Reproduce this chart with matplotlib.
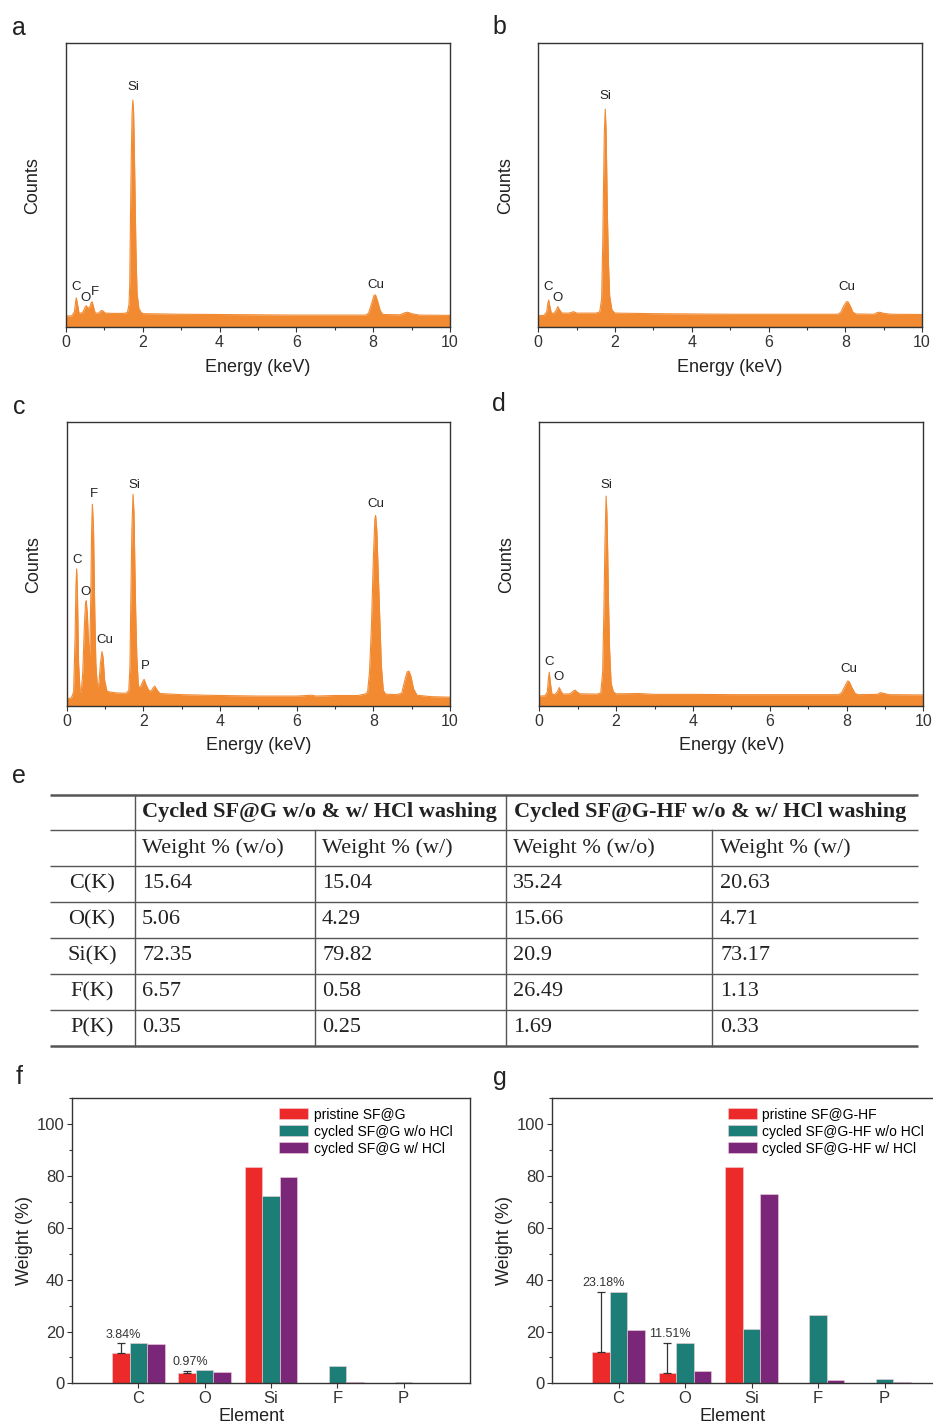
import matplotlib
matplotlib.use('Agg')
import matplotlib.pyplot as plt
import numpy as np

plt.rcParams['font.family'] = ['Liberation Sans', 'DejaVu Sans']

W, H = 933, 1425
ORANGE = '#F28A32'
INK = '#333333'

# ---------------- EDS spectra: energy (keV) / counts (% of axis height) ----------------
energy_a = [0.00, 0.15, 0.22, 0.25, 0.27, 0.30, 0.34, 0.38, 0.45, 0.50, 0.53, 0.57, 0.62,
            0.66, 0.68, 0.71, 0.76, 0.85, 0.92, 0.96, 1.02, 1.20, 1.50, 1.60, 1.64, 1.66,
            1.68, 1.70, 1.72, 1.74, 1.76, 1.78, 1.80, 1.82, 1.85, 1.90, 1.96, 2.00, 3.00,
            4.00, 5.00, 6.00, 7.00, 7.80, 7.88, 7.95, 8.02, 8.06, 8.12, 8.18, 8.25, 8.70,
            8.82, 8.90, 9.00, 9.20, 10.00]
counts_a = [4.0, 4.0, 5.5, 9.0, 10.4, 8.0, 5.0, 4.9, 5.5, 7.2, 7.6, 6.7, 7.2,
            8.8, 9.0, 7.5, 5.0, 5.0, 5.9, 5.8, 5.0, 4.9, 4.9, 5.2, 8.0, 15.0,
            40.0, 60.0, 75.0, 80.0, 76.0, 62.0, 45.0, 28.0, 12.0, 6.5, 5.2, 4.8, 4.6,
            4.5, 4.4, 4.3, 4.3, 4.3, 5.0, 8.0, 11.2, 11.4, 9.0, 6.0, 4.5, 4.4,
            5.1, 5.3, 4.8, 4.3, 4.2]
peaks_a = [('C', 0.27, 14.1), ('O', 0.50, 10.2), ('F', 0.76, 12.3),
           ('Si', 1.75, 84.6), ('Cu', 8.06, 14.9)]

energy_b = [0.00, 0.15, 0.22, 0.25, 0.27, 0.30, 0.34, 0.40, 0.47, 0.51, 0.55, 0.62, 0.80,
            0.92, 1.00, 1.50, 1.60, 1.65, 1.68, 1.70, 1.72, 1.745, 1.765, 1.78, 1.80, 1.83,
            1.86, 1.92, 2.00, 3.00, 4.00, 5.00, 6.00, 7.00, 7.80, 7.88, 7.96, 8.03, 8.07,
            8.13, 8.20, 8.28, 8.75, 8.84, 8.90, 9.00, 9.20, 10.00]
counts_b = [4.1, 4.2, 5.5, 8.5, 9.6, 7.5, 5.0, 4.9, 6.0, 7.3, 6.2, 5.0, 5.0,
            5.5, 5.0, 5.0, 5.4, 10.0, 30.0, 50.0, 68.0, 76.8, 70.0, 58.0, 40.0, 22.0,
            11.0, 6.0, 5.0, 4.8, 4.7, 4.6, 4.6, 4.6, 4.6, 5.2, 7.5, 9.0, 9.0,
            7.5, 5.3, 4.7, 4.6, 5.2, 5.3, 4.9, 4.6, 4.5]
peaks_b = [('C', 0.26, 14.1), ('O', 0.51, 10.4), ('Si', 1.76, 81.5), ('Cu', 8.05, 14.1)]

energy_c = [0.00, 0.12, 0.18, 0.22, 0.24, 0.26, 0.28, 0.31, 0.35, 0.38, 0.42, 0.46, 0.49,
            0.51, 0.54, 0.57, 0.60, 0.63, 0.65, 0.67, 0.70, 0.73, 0.76, 0.80, 0.84, 0.88,
            0.92, 0.95, 0.99, 1.05, 1.10, 1.30, 1.55, 1.62, 1.65, 1.67, 1.70, 1.73, 1.755,
            1.78, 1.80, 1.83, 1.87, 1.92, 1.98, 2.02, 2.07, 2.14, 2.20, 2.26, 2.30, 2.35,
            2.43, 3.00, 4.00, 5.00, 6.00, 6.40, 6.50, 7.00, 7.60, 7.80, 7.85, 7.90, 7.95,
            8.00, 8.04, 8.06, 8.09, 8.13, 8.17, 8.21, 8.26, 8.32, 8.60, 8.74, 8.82, 8.88,
            8.93, 8.98, 9.05, 9.14, 9.50, 10.00]
counts_c = [2.6, 2.8, 5.0, 25.0, 42.0, 48.3, 40.0, 15.0, 5.0, 5.0, 12.0, 28.0, 36.0,
            37.1, 32.0, 22.0, 18.0, 40.0, 62.0, 71.1, 62.0, 35.0, 15.0, 6.8, 8.0, 15.0,
            19.2, 17.0, 9.0, 5.2, 5.0, 4.6, 4.5, 5.5, 14.0, 35.0, 62.0, 74.6, 68.0,
            48.0, 33.0, 17.0, 7.0, 6.5, 8.5, 9.4, 7.5, 5.5, 5.2, 6.5, 7.0, 5.8,
            4.4, 4.0, 3.7, 3.5, 3.5, 3.8, 3.5, 3.7, 3.7, 4.3, 5.0, 12.0, 28.0,
            52.0, 66.0, 67.1, 62.0, 46.0, 30.0, 14.0, 5.5, 4.2, 4.0, 4.5, 9.0, 12.0,
            12.3, 10.5, 6.0, 3.8, 3.3, 3.1]
peaks_c = [('C', 0.26, 51.5), ('O', 0.49, 40.1), ('F', 0.70, 74.7), ('Cu', 0.99, 23.3),
           ('Si', 1.76, 77.9), ('P', 2.06, 14.2), ('Cu', 8.07, 71.2)]

energy_d = [0.00, 0.15, 0.21, 0.24, 0.26, 0.29, 0.33, 0.40, 0.47, 0.52, 0.57, 0.62, 0.80,
            0.88, 0.93, 0.98, 1.05, 1.50, 1.60, 1.65, 1.68, 1.71, 1.74, 1.76, 1.78, 1.80,
            1.83, 1.87, 1.93, 2.00, 2.60, 3.00, 4.00, 5.00, 6.00, 7.00, 7.80, 7.88, 7.96,
            8.03, 8.07, 8.14, 8.22, 8.30, 8.80, 8.88, 8.96, 9.10, 10.00]
counts_d = [3.5, 3.6, 5.0, 10.0, 11.9, 8.0, 4.2, 4.0, 5.0, 6.5, 5.0, 4.2, 4.3,
            5.2, 5.6, 5.0, 4.3, 4.2, 4.6, 12.0, 32.0, 58.0, 74.0, 68.0, 55.0, 38.0,
            20.0, 8.0, 5.0, 4.3, 4.4, 4.1, 4.1, 4.0, 4.0, 4.0, 4.0, 4.8, 7.0,
            8.8, 8.6, 6.5, 4.5, 4.0, 4.1, 4.7, 4.5, 4.0, 3.9]
peaks_d = [('C', 0.26, 15.4), ('O', 0.49, 10.1), ('Si', 1.75, 77.9), ('Cu', 8.07, 12.9)]

# ---------------- table e ----------------
row_labels = ['C(K)', 'O(K)', 'Si(K)', 'F(K)', 'P(K)']
sfg_wo = ['15.64', '5.06', '72.35', '6.57', '0.35']
sfg_w = ['15.04', '4.29', '79.82', '0.58', '0.25']
sfghf_wo = ['35.24', '15.66', '20.9', '26.49', '1.69']
sfghf_w = ['20.63', '4.71', '73.17', '1.13', '0.33']

# ---------------- bar charts f, g ----------------
elements = ['C', 'O', 'Si', 'F', 'P']
pristine_sfg = [11.6, 3.9, 83.7, 0.0, 0.0]
cycled_sfg_wo = [float(v) for v in sfg_wo]
cycled_sfg_w = [float(v) for v in sfg_w]
err_sfg = [3.84, 0.97]           # on pristine C and O
pristine_hf = [12.0, 4.0, 83.4, 0.0, 0.0]
cycled_hf_wo = [float(v) for v in sfghf_wo]
cycled_hf_w = [float(v) for v in sfghf_w]
err_hf = [23.18, 11.51]
BAR_COLORS = ['#EC2A2A', '#1D7E78', '#7B2779']


fig = plt.figure(figsize=(W / 100, H / 100), dpi=100)


def px_axes(x0, y0, x1, y1):
    return fig.add_axes([x0 / W, 1 - y1 / H, (x1 - x0) / W, (y1 - y0) / H])


def style_spines(ax):
    for s in ax.spines.values():
        s.set_color(INK)
        s.set_linewidth(1.0)


def spectrum_panel(ax, energy, counts, peaks):
    ax.fill_between(energy, 0, counts, color=ORANGE, lw=0)
    ax.plot(energy, counts, color=ORANGE, lw=0.8)
    for name, ex, ey in peaks:
        ax.text(ex, ey, name, ha='center', va='center', fontsize=9.5, color='#222222')
    ax.set_xlim(0, 10)
    ax.set_ylim(0, 100)
    ax.set_xticks(range(0, 11, 2))
    ax.set_xticks(range(1, 10, 2), minor=True)
    ax.set_yticks([])
    ax.tick_params(axis='x', which='major', direction='out', length=3.5, width=0.8,
                   colors=INK, labelsize=11.5, pad=2)
    ax.tick_params(axis='x', which='minor', direction='out', length=2, width=0.8, colors=INK)
    ax.set_xlabel('Energy (keV)', fontsize=13, color='#222222')
    ax.set_ylabel('Counts', fontsize=13, color='#222222')
    ax.xaxis.set_label_coords(0.5, -0.14)
    ax.xaxis.label.set_va('center')
    ax.yaxis.set_label_coords(-0.086, 0.5)
    ax.yaxis.label.set_va('center')
    style_spines(ax)


def bar_panel(ax, pristine, wo, w, errs, labels):
    x = np.arange(1, len(elements) + 1)
    bw = 0.265
    for off, vals, col, lab in zip([-bw, 0, bw], [pristine, wo, w], BAR_COLORS, labels):
        ax.bar(x + off, vals, width=bw, color=col, edgecolor='#f2d0d8', linewidth=0.4,
               label=lab, zorder=2)
    for i, e in enumerate(errs):
        ax.errorbar(x[i] - bw, pristine[i], yerr=[[0], [e]], fmt='none', ecolor=INK,
                    elinewidth=0.9, capsize=3, capthick=0.9, zorder=3)
        ax.annotate(f'{e:.2f}%', (x[i] - bw, pristine[i] + e), xytext=(2, 2),
                    textcoords='offset points', ha='center', va='bottom',
                    fontsize=9, color=INK)
    ax.set_xlim(0, 6)
    ax.set_ylim(0, 110)
    ax.set_xticks(x)
    ax.set_xticklabels(elements)
    ax.set_yticks(range(0, 101, 20))
    ax.set_yticks(range(10, 111, 20), minor=True)
    ax.tick_params(which='major', direction='out', length=3.5, width=0.8, colors=INK,
                   labelsize=12, pad=2)
    ax.tick_params(which='minor', direction='out', length=2, width=0.8, colors=INK)
    ax.tick_params(axis='x', which='minor', length=0)
    ax.set_xlabel('Element', fontsize=13, color='#222222')
    ax.set_ylabel('Weight (%)', fontsize=13, color='#222222')
    ax.xaxis.set_label_coords(0.452, -0.117)
    ax.xaxis.label.set_va('center')
    ax.yaxis.set_label_coords(-0.119, 0.5)
    ax.yaxis.label.set_va('center')
    style_spines(ax)


ax_a = px_axes(66, 43.3, 450, 327.3)
spectrum_panel(ax_a, energy_a, counts_a, peaks_a)
ax_b = px_axes(538.3, 43.3, 922, 327.3)
spectrum_panel(ax_b, energy_b, counts_b, peaks_b)
ax_c = px_axes(66.7, 422.3, 450, 706)
spectrum_panel(ax_c, energy_c, counts_c, peaks_c)
ax_d = px_axes(539.3, 422.3, 923.3, 706)
spectrum_panel(ax_d, energy_d, counts_d, peaks_d)

# table e, drawn in pixel coordinates
ax_t = px_axes(0, 780, W, 1060)
ax_t.set_xlim(0, W)
ax_t.set_ylim(1060, 780)
ax_t.axis('off')
row_lines = [795, 830, 866, 902, 938, 974, 1010, 1046]
for i, yl in enumerate(row_lines):
    lw = 1.8 if i in (0, len(row_lines) - 1) else 1.0
    ax_t.plot([50, 918], [yl, yl], color='#555555', lw=lw, solid_capstyle='butt')
for xl, ytop in [(135, 795), (506, 795), (315, 830), (712, 830)]:
    ax_t.plot([xl, xl], [ytop, 1046], color='#555555', lw=1.0)
serif = ['Liberation Serif', 'DejaVu Serif']
ax_t.text(142, 812.5, 'Cycled SF@G w/o & w/ HCl washing', fontsize=16, fontweight='bold',
          family=serif, va='center', ha='left', color='#222222')
ax_t.text(514, 812.5, 'Cycled SF@G-HF w/o & w/ HCl washing', fontsize=16, fontweight='bold',
          family=serif, va='center', ha='left', color='#222222')
col_x = [142, 322, 513, 720]
for cx, head in zip(col_x, ['Weight % (w/o)', 'Weight % (w/)', 'Weight % (w/o)', 'Weight % (w/)']):
    ax_t.text(cx, 848, head, fontsize=16, family=serif, va='center', ha='left', color='#222222')
row_y = [884, 920, 956, 992, 1028]
for j, ry in enumerate(row_y):
    ax_t.text(92, ry, row_labels[j], fontsize=16, family=serif, va='center', ha='center',
              color='#222222')
    for cx, col in zip(col_x, [sfg_wo, sfg_w, sfghf_wo, sfghf_w]):
        ax_t.text(cx, ry, col[j], fontsize=16, family=serif, va='center', ha='left',
                  color='#222222')

ax_f = px_axes(72, 1098.4, 470, 1383.3)
bar_panel(ax_f, pristine_sfg, cycled_sfg_wo, cycled_sfg_w, err_sfg,
          ['pristine SF@G', 'cycled SF@G w/o HCl', 'cycled SF@G w/ HCl'])
ax_f.legend(loc='upper left', bbox_to_anchor=(0.52, 0.968), frameon=False, fontsize=10,
            handlelength=2.1, handleheight=0.85, labelspacing=0.22, handletextpad=0.4,
            borderpad=0, borderaxespad=0)

ax_g = px_axes(552, 1098.4, 951, 1383.3)
bar_panel(ax_g, pristine_hf, cycled_hf_wo, cycled_hf_w, err_hf,
          ['pristine SF@G-HF', 'cycled SF@G-HF w/o HCl', 'cycled SF@G-HF w/ HCl'])
ax_g.legend(loc='upper left', bbox_to_anchor=(0.44, 0.968), frameon=False, fontsize=10,
            handlelength=2.1, handleheight=0.85, labelspacing=0.22, handletextpad=0.4,
            borderpad=0, borderaxespad=0)

for letter, lx, ly in [('a', 19, 28), ('b', 499, 27), ('c', 19, 407), ('d', 499, 404),
                       ('e', 19, 776), ('f', 19, 1077), ('g', 500, 1078)]:
    fig.text(lx / W, 1 - ly / H, letter, fontsize=18, ha='center', va='center', color='#222222')

fig.savefig('out.png', dpi=100)
